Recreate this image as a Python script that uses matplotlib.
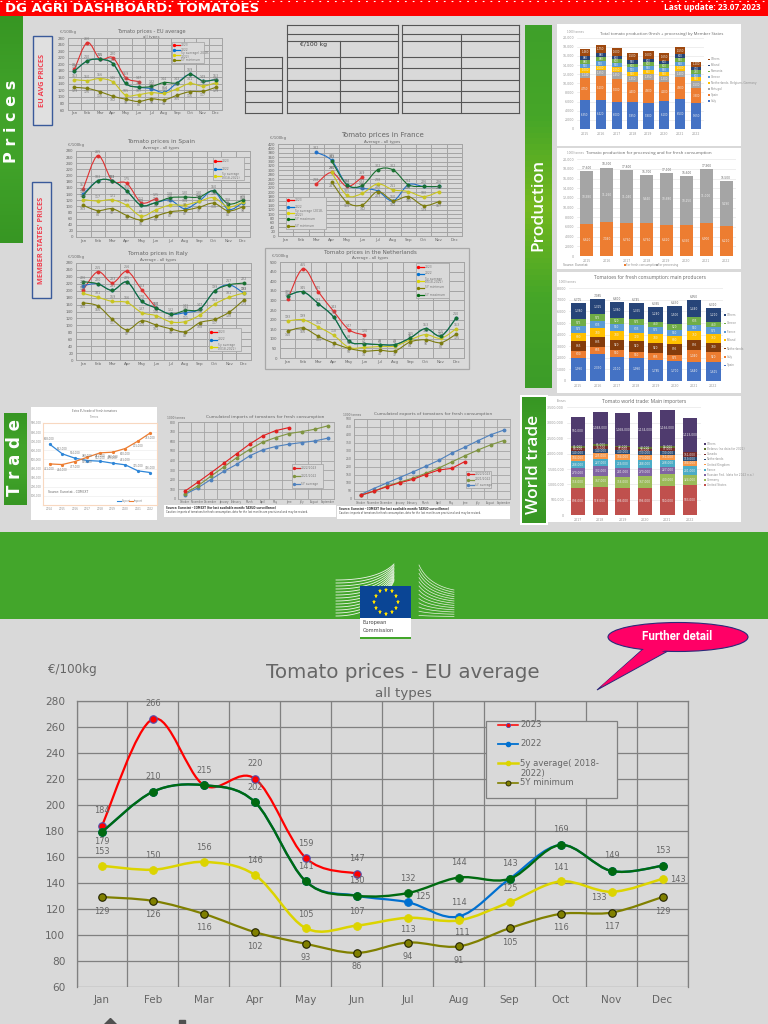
# DG AGRI tomato dashboard

import numpy as np
import matplotlib
matplotlib.use('Agg')
import matplotlib.pyplot as plt
from matplotlib.path import Path
from matplotlib.patches import PathPatch, Rectangle, Ellipse, Polygon
from matplotlib.colors import LinearSegmentedColormap

# Price series
months = ['Jan', 'Feb', 'Mar', 'Apr', 'May', 'Jun', 'Jul', 'Aug', 'Sep', 'Oct', 'Nov', 'Dec']
N = None

eu_2023 = [184, 266, 215, 220, 159, 147, N, N, N, N, N, N]
eu_2022 = [179, 210, 215, 202, 141, 130, 125, 114, 143, 169, 149, 153]
eu_avg = [153, 150, 156, 146, 105, 107, 113, 111, 125, 141, 133, 143]
eu_min = [129, 126, 116, 102, 93, 86, 94, 91, 105, 116, 117, 129]
eu_max = [179, 210, 215, 202, 141, 130, 132, 144, 143, 169, 149, 153]

es_2023 = [157, 265, 183, 175, 112, 125, N, N, N, N, N, N]
es_2022 = [140, 183, 183, 150, 103, 112, 120, 92, 117, 150, 90, 112]
es_avg = [122, 117, 121, 103, 68, 88, 104, 104, 116, 128, 98, 113]
es_min = [103, 86, 92, 70, 55, 68, 82, 87, 97, 110, 85, 98]
es_max = [135, 183, 183, 150, 103, 112, 128, 130, 130, 150, 108, 120]

fr_2023 = [N, N, 238, 290, 226, 269, N, N, N, N, N, N]
fr_2022 = [N, N, 382, 345, 234, 218, 206, 160, 234, 226, 226, N]
fr_avg = [N, N, N, 290, 185, 195, 238, 211, 203, 180, 203, N]
fr_min = [N, N, N, 247, 154, 142, 203, 162, 180, 139, 157, N]
fr_max = [N, N, N, 342, 234, 231, 302, 302, 234, 226, 226, N]

it_2023 = [203, 255, 223, 256, 203, 150, N, N, N, N, N, N]
it_2022 = [215, 220, 201, 225, 170, 150, 132, 137, 147, 199, 217, 193]
it_avg = [192, 181, 169, 166, 137, 128, 110, 111, 130, 161, 181, 193]
it_min = [165, 156, 117, 87, 113, 101, 90, 82, 108, 117, 138, 173]
it_max = [226, 220, 201, 225, 170, 150, 132, 143, 147, 199, 217, 222]

nl_2023 = [305, 465, 345, 243, 147, 120, N, N, N, N, N, N]
nl_2022 = [325, 345, 283, 213, 88, 75, 70, 70, 105, 153, 115, 210]
nl_avg = [193, 199, 162, 118, 55, 55, 60, 62, 95, 122, 103, 153]
nl_min = [140, 156, 113, 77, 50, 36, 40, 37, 84, 95, 80, 125]
nl_max = [325, 345, 283, 213, 88, 75, 70, 70, 105, 153, 115, 210]

# Production, 1000 tonnes
prod_years = ['2015', '2016', '2017', '2018', '2019', '2020', '2021', '2022']
prod_names = ['Italy', 'Spain', 'Portugal', 'Netherlands, Belgium, Germany', 'Greece', 'Romania', 'Poland', 'Others']
prod_italy = [6350, 6420, 6000, 5850, 5800, 6100, 6500, 5650]
prod_spain = [4750, 5100, 5000, 4400, 4900, 4200, 4900, 3300]
prod_port = [1240, 1350, 1450, 1350, 1350, 1300, 1400, 1500]
prod_nbg = [1000, 1000, 1050, 950, 900, 950, 1000, 850]
prod_greece = [950, 950, 950, 950, 850, 850, 900, 800]
prod_rom = [880, 880, 800, 800, 800, 800, 850, 750]
prod_pol = [880, 880, 800, 850, 800, 800, 800, 700]
prod_oth = [1460, 1750, 1600, 1500, 1600, 1650, 1550, 1200]

use_fresh = [6620, 7040, 6760, 6760, 6420, 6350, 6900, 6210]
use_proc = [10980, 11260, 11040, 9940, 10680, 10250, 11000, 9290]

fresh_names = ['Spain', 'Italy', 'Netherlands', 'Poland', 'France', 'Greece', 'Others']
fresh_spain = [1990, 2330, 2100, 1990, 1785, 1700, 1640, 1615]
fresh_italy = [630, 605, 550, 550, 605, 575, 1040, 920]
fresh_neth = [865, 835, 920, 920, 920, 895, 895, 780]
fresh_pol = [690, 780, 780, 720, 780, 690, 750, 750]
fresh_fra = [575, 635, 550, 635, 575, 550, 550, 575]
fresh_gre = [575, 575, 520, 575, 460, 520, 635, 460]
fresh_oth = [1380, 1325, 1380, 1355, 1240, 1500, 1440, 1210]

# World trade, tonnes
world_years = ['2017', '2018', '2019', '2020', '2021', '2022']
world_names = ['United States', 'Germany', 'Russian Fed. (data for 2022 n.a.)', 'France', 'United Kingdom',
               'Netherlands', 'Canada', 'Belarus (no data for 2022)', 'Others']
w_us = [896000, 918000, 896000, 896000, 940000, 983000]
w_de = [356000, 367000, 356000, 367000, 400000, 324000]
w_ru = [270000, 302000, 281000, 270000, 227000, 0]
w_fr = [248000, 227000, 259000, 248000, 238000, 281000]
w_uk = [184000, 205000, 184000, 173000, 151000, 184000]
w_nl = [140000, 140000, 140000, 130000, 130000, 119000]
w_ca = [86000, 76000, 97000, 76000, 97000, 151000]
w_by = [65000, 65000, 32000, 43000, 54000, 0]
w_ot = [950000, 1048000, 1058000, 1134000, 1166000, 1123000]

# Extra EU trade, 1000 tonnes
trade_years = ['2014', '2015', '2016', '2017', '2018', '2019', '2020', '2021', '2022']
trade_export = [668, 562, 514, 488, 481, 459, 441, 375, 356]
trade_import = [451, 444, 477, 525, 572, 580, 620, 701, 793]

# Cumulated trade, 1000 tonnes
camp_months = ['October', 'November', 'December', 'January', 'February', 'March', 'April', 'May', 'June', 'July', 'August', 'September']
imp_now = [79, 172, 269, 369, 469, 569, 655, 710, 741, N, N, N]
imp_last = [55, 134, 234, 331, 428, 514, 590, 638, 679, 700, 724, 759]
imp_avg = [45, 114, 200, 286, 359, 448, 510, 545, 569, 586, 603, 631]
exp_now = [23, 48, 76, 101, 122, 153, 181, 191, 233, N, N, N]
exp_last = [23, 48, 80, 105, 130, 160, 193, 231, 269, 305, 338, 365]
exp_avg = [27, 65, 99, 134, 168, 204, 241, 286, 323, 363, 401, 430]

W, H = 768, 1024
BG = '#d9d9d9'
GREY = '#666666'
RED, BLUE, YEL, OLI, GRN = '#ff0000', '#0070d0', '#dcd400', '#808000', '#006a10'

fig = plt.figure(figsize=(W / 100, H / 100), dpi=100, facecolor=BG)


def px_axes(x0, y0, x1, y1, z=1):
    # axes placed by picture pixels, y counted from the top
    ax = fig.add_axes([x0 / W, 1 - y1 / H, (x1 - x0) / W, (y1 - y0) / H], zorder=z)
    ax.patch.set_alpha(0)
    return ax


def overlay(z):
    ax = px_axes(0, 0, W, H, z)
    ax.set_xlim(0, W)
    ax.set_ylim(H, 0)
    ax.axis('off')
    return ax


bg = overlay(0)
fg = overlay(5)


def box(x0, y0, x1, y1, fc, ec='none', lw=0, ax=bg, z=1):
    ax.add_patch(Rectangle((x0, y0), x1 - x0, y1 - y0, fc=fc, ec=ec, lw=lw, zorder=z))


def smooth(ax, values, color, lw, z):
    # Excel style smoothed line through the points
    pts = [(i, v) for i, v in enumerate(values) if v is not None]
    verts = [pts[0]]
    codes = [Path.MOVETO]
    for k in range(len(pts) - 1):
        p0 = pts[max(k - 1, 0)]
        p1, p2 = pts[k], pts[k + 1]
        p3 = pts[min(k + 2, len(pts) - 1)]
        c1 = (p1[0] + (p2[0] - p0[0]) / 6, p1[1] + (p2[1] - p0[1]) / 6)
        c2 = (p2[0] - (p3[0] - p1[0]) / 6, p2[1] - (p3[1] - p1[1]) / 6)
        verts += [c1, c2, p2]
        codes += [Path.CURVE4] * 3
    ax.add_patch(PathPatch(Path(verts, codes), fc='none', ec=color, lw=lw, zorder=z, capstyle='round'))


def points(ax, values, color, ms, z, edge=None, mew=0.6):
    xs = [i for i, v in enumerate(values) if v is not None]
    ys = [v for v in values if v is not None]
    ax.plot(xs, ys, ls='none', marker='o', ms=ms, mfc=color, mec=edge or color, mew=mew, zorder=z)


def small_chart(rect, ymax, ystep, series, title, sub, unit, title_x, title_y, sub_y, title_fs):
    ax = px_axes(*rect)
    ymin = series[0]
    ax.set_xlim(-0.5, 11.5)
    ax.set_ylim(ymin, ymax)
    ax.set_xticks(np.arange(-0.5, 12))
    ax.set_xticklabels([])
    ax.set_yticks(np.arange(ymin, ymax + 1, ystep))
    ax.grid(True, color='#a4a4a4', lw=0.7)
    ax.set_axisbelow(True)
    for s in ax.spines.values():
        s.set_color('#a4a4a4')
        s.set_linewidth(0.7)
    ax.tick_params(length=0, labelsize=2.9, labelcolor=GREY, pad=2)
    for i, m in enumerate(months):
        ax.text(i, -0.045, m, transform=ax.get_xaxis_transform(), ha='center', va='center', fontsize=2.9, color=GREY)
    styles = [('#e03030', 1), ('#2070c8', 2), ('#c8c420', 3), ('#7c7c10', 4), ('#187030', 5)]
    for values, (color, z) in zip(series[1:], styles):
        smooth(ax, values, color, 0.8, z)
        points(ax, values, color, 2.2, z + 0.5)
        offset = -4 if z == 4 else 4
        for i, v in enumerate(values):
            if v is not None and not (z == 2 and v == series[5][i]):
                ax.annotate(str(v), (i, v), xytext=(0, offset), textcoords='offset pixels', ha='center',
                            va='center', fontsize=2.3, color='#777777', zorder=7)
    bg.text(title_x, title_y, title, ha='center', va='center', fontsize=title_fs, color=GREY, zorder=3)
    bg.text(title_x, sub_y, sub, ha='center', va='center', fontsize=2.8, color=GREY, zorder=3)
    bg.text(rect[0] - 8, rect[1] - 6, unit, ha='left', va='center', fontsize=2.8, color=GREY, zorder=3)
    return ax


def small_legend(x0, y0, x1, y1, labels, colors):
    box(x0, y0, x1, y1, BG, '#a8a8a8', 0.6, ax=fg, z=1)
    step = (y1 - y0) / len(labels)
    for i, (lab, col) in enumerate(zip(labels, colors)):
        y = y0 + step * (i + 0.5)
        fg.plot([x0 + 2, x0 + 8], [y, y], color=col, lw=0.9, marker='o', ms=1.4, markevery=[0], zorder=2)
        fg.text(x0 + 9, y, lab, fontsize=2.2, color='#777777', va='center', linespacing=0.95, zorder=2)


def stacked(rect, labels, series, colors, ymax, ystep, width, title, tx, ty, tfs, unit, fs=2.1, totals=False):
    ax = px_axes(*rect)
    x = np.arange(len(labels))
    base = np.zeros(len(labels))
    for vals, col in zip(series, colors):
        ax.bar(x, vals, width, bottom=base, color=col, zorder=2)
        for i, v in enumerate(vals):
            if v > 0:
                ax.text(i, base[i] + v / 2, f'{v:,}', ha='center', va='center', fontsize=fs, color='#eeeeee', zorder=3)
        base += np.array(vals)
    if totals:
        for i, t in enumerate(base):
            ax.text(i, t + ymax * 0.012, f'{int(t):,}', ha='center', va='bottom', fontsize=fs, color=GREY)
    ax.set_xlim(-0.5, len(labels) - 0.5)
    ax.set_ylim(0, ymax)
    ax.set_xticks(x)
    ax.set_xticklabels(labels)
    ax.set_yticks(np.arange(0, ymax + 1, ystep))
    ax.yaxis.set_major_formatter(lambda v, p: f'{int(v):,}')
    ax.grid(True, axis='y', color='#e8e8e8', lw=0.5)
    ax.set_axisbelow(True)
    for s in ax.spines.values():
        s.set_visible(False)
    ax.tick_params(length=0, labelsize=2.3, labelcolor='#999999', pad=2)
    bg.text(tx, ty, title, ha='center', va='center', fontsize=tfs, color='#666666', family='Open Sans', zorder=3)
    bg.text(rect[0] - 10, rect[1] - 6, unit, fontsize=2, color='#999999', va='center', zorder=3)
    return ax


def side_legend(x, y0, step, labels, colors):
    for i, (lab, col) in enumerate(zip(labels, colors)):
        y = y0 + i * step
        box(x, y - 0.8, x + 2, y + 0.8, col, z=3)
        bg.text(x + 3, y, lab, fontsize=2.1, color='#909090', va='center', zorder=3)


def side_tab(x0, y0, x1, y1, text, fs, text_y, shades, weight='bold', family='Open Sans'):
    cmap = LinearSegmentedColormap.from_list('tab', shades)
    grad = np.linspace(0, 1, 64).reshape(-1, 1)
    bg.imshow(grad, extent=(x0, x1, y1, y0), aspect='auto', cmap=cmap, zorder=2)
    bg.set_xlim(0, W)
    bg.set_ylim(H, 0)
    bg.text((x0 + x1) / 2, text_y, text, rotation=90, ha='center', va='center', color='white',
            fontsize=fs, fontweight=weight, family=family, zorder=3)


# Header
box(0, 0, W, H, BG)
box(0, 0, W, 15.5, '#ff0000')
bg.plot([0, W], [0.8, 0.8], color='white', lw=0.8, ls=(0, (1.6, 5.4)), zorder=2)
bg.text(5, 9, 'DG AGRI DASHBOARD: TOMATOES', color='white', fontsize=9.5, fontweight='bold', va='center', zorder=3)
stamp = bg.text(761, 8, 'Last update: 23.07.2023', color='white', fontsize=8, fontweight='bold', ha='right',
                va='center', family='Open Sans', zorder=3)
# the stamp is 97 pixels wide in the reference
stamp.set_fontsize(8 * 97 / stamp.get_window_extent(fig.canvas.get_renderer()).width)

# Side tabs
plain = ['#379623', '#40a229', '#40a229', '#379623']
lime = ['#3fa02a', '#46a628', '#74b81e', '#46a628', '#3c9c28']
side_tab(0, 16, 23, 243, 'P r i c e s', 11.5, 121, plain, family='DejaVu Sans')
side_tab(4, 413, 27, 505, 'T r a d e', 12, 457, plain, family='DejaVu Sans')
side_tab(525, 25, 552, 388, 'Production', 12.5, 205, lime, weight='semibold')
box(520, 395, 548, 525, 'white', z=1)
side_tab(522, 397, 546, 523, 'World trade', 12.5, 464, plain, weight='semibold')

for x0, y0, x1, y1, label in [(33, 36, 52, 125, 'EU AVG PRICES'), (32, 182, 51, 298, "MEMBER STATES' PRICES")]:
    box(x0, y0, x1, y1, '#e0e0e0', '#3a5a9a', 1.0)
    bg.text((x0 + x1) / 2, (y0 + y1) / 2, label, rotation=90, ha='center', va='center', color='#f04050',
            fontsize=5.3, fontweight='bold', family='Open Sans', zorder=3)

# Empty tables
line_c = '#555555'
for x0, x1, rows in [(245, 282, [57, 68, 80, 91, 102, 113]),
                     (287, 398, [25, 34, 41, 57, 68, 80, 91, 102, 113]),
                     (402, 519, [25, 34, 41, 57, 68, 80, 91, 102, 113])]:
    for y in rows:
        bg.plot([x0, x1], [y, y], color=line_c, lw=0.8, zorder=2)
    bg.plot([x0, x0], [rows[0], rows[-1]], color=line_c, lw=0.8, zorder=2)
    bg.plot([x1, x1], [rows[0], rows[-1]], color=line_c, lw=0.8, zorder=2)
bg.plot([340, 340], [41, 113], color=line_c, lw=0.8, zorder=2)
bg.plot([461, 461], [34, 113], color=line_c, lw=0.8, zorder=2)
bg.text(313, 44.5, '€/100 kg', fontsize=4.4, color='#333333', ha='center', va='center', zorder=3)

# Small price charts
small_chart((68, 38, 222, 110), 280, 20, [60, eu_2023, eu_2022, eu_avg, eu_min, eu_max],
            'Tomato prices - EU average', 'all types', '€/100kg', 151, 32, 37, 3.6)
small_legend(172, 42, 204, 63, ['2023', '2022', '5y average( 2018-\n2022)', '5Y minimum'], [RED, BLUE, YEL, OLI])

small_chart((76, 151, 250, 237), 280, 20, [0, es_2023, es_2022, es_avg, es_min, es_max],
            'Tomato prices in Spain', 'Average - all types', '€/100kg', 161, 142, 147.5, 4.3)
small_legend(213, 157, 244, 180, ['2023', '2022', '5y average\n(2018-2022)'], [RED, BLUE, YEL])

small_chart((278, 144, 462, 236), 420, 20, [0, fr_2023, fr_2022, fr_avg, fr_min, fr_max],
            'Tomato prices in France', 'Average - all types', '€/100kg', 382, 135, 141.5, 5)
small_legend(286, 197, 326, 229, ['2023', '2022', '5y average (2018-\n2022)', '5Y maximum', '5Y minimum'],
             [RED, BLUE, YEL, GRN, OLI])

small_chart((76, 263, 251, 360), 280, 20, [0, it_2023, it_2022, it_avg, it_min, it_max],
            'Tomato prices in Italy', 'Average - all types', '€/100kg', 158, 254, 260, 4.1)
small_legend(209, 328, 241, 351, ['2023', '2022', '5y average\n(2018-2022)'], [RED, BLUE, YEL])

box(265, 248, 469, 369, BG, '#a8a8a8', 0.9)
small_chart((280, 262, 464, 358), 500, 50, [0, nl_2023, nl_2022, nl_avg, nl_min, nl_max],
            'Tomato prices in the Netherlands', 'Average - all types', '€/100kg', 370.5, 252.5, 258, 4.1)
small_legend(416, 263, 449, 298, ['2023', '2022', '5y average\n(2018-2022)', '5Y minimum', '5Y maximum'],
             [RED, BLUE, YEL, OLI, GRN])

# Production panels
box(557, 24, 741, 146, 'white')
c1 = ['#4472c4', '#ed7d31', '#a5a5a5', '#ffc000', '#5b9bd5', '#70ad47', '#264478', '#9e480e']
stacked((577, 37.7, 704, 129), prod_years,
        [prod_italy, prod_spain, prod_port, prod_nbg, prod_greece, prod_rom, prod_pol, prod_oth], c1,
        20000, 2000, 0.65, 'Total tomato production (fresh + processing) by Member States', 662, 34, 3.0,
        '1000 tonnes', fs=1.9)
side_legend(708, 59.5, 5.9, prod_names[::-1], c1[::-1])

box(557, 148, 741, 269, 'white')
stacked((577, 159.3, 736, 256), prod_years, [use_fresh, use_proc], ['#ed7d31', '#a5a5a5'], 20000, 2000, 0.65,
        'Tomato production for processing and for fresh consumption', 649, 153, 3.2, '1000 tonnes', totals=True)
bg.text(563, 265, 'Source: Eurostat', fontsize=2.2, color='#808080', va='center', zorder=3)
bg.text(626, 265, 'For fresh consumption', fontsize=2.1, color='#909090', va='center', zorder=3)
box(624, 264.3, 625.5, 265.7, '#ed7d31', z=3)
bg.text(658, 265, 'For processing', fontsize=2.1, color='#909090', va='center', zorder=3)
box(656, 264.3, 657.5, 265.7, '#a5a5a5', z=3)

box(557, 272, 741, 393, 'white')
c3 = ['#4472c4', '#ed7d31', '#843c0c', '#ffc000', '#5b9bd5', '#70ad47', '#264478']
stacked((568.7, 288.3, 723, 381), prod_years,
        [fresh_spain, fresh_italy, fresh_neth, fresh_pol, fresh_fra, fresh_gre, fresh_oth], c3,
        8000, 1000, 0.76, 'Tomatoes for fresh consumption: main producers', 650, 277, 3.5, '1000 tonnes', totals=True)
side_legend(724, 315, 8.4, fresh_names[::-1], c3[::-1])

box(548, 396, 741, 522, 'white')
c4 = ['#c0504d', '#9bbb59', '#8064a2', '#4bacc6', '#f79646', '#2c4d75', '#772c2a', '#5f7530', '#4f3b6e']
stacked((566.8, 407.3, 701, 515.3), world_years, [w_us, w_de, w_ru, w_fr, w_uk, w_nl, w_ca, w_by, w_ot], c4,
        3500000, 500000, 0.65, 'Tomato world trade: Main importers', 644, 401, 3.6, 'Tonnes')
side_legend(704, 444, 5.15, world_names[::-1], c4[::-1])

# Extra EU trade
box(31, 407, 157, 520, 'white')
ax = px_axes(43.3, 423, 156.8, 505)
ax.plot(trade_export, color='#2e86d8', lw=0.9, marker='o', ms=1.3)
ax.plot(trade_import, color='#ed7d31', lw=0.9, marker='o', ms=1.3)
for i in range(len(trade_years)):
    ax.annotate(f'{trade_export[i]},000', (i, trade_export[i]), xytext=(0, 5), textcoords='offset pixels',
                ha='center', va='center', fontsize=1.9, color='#777777')
    ax.annotate(f'{trade_import[i]},000', (i, trade_import[i]), xytext=(0, -5), textcoords='offset pixels',
                ha='center', va='center', fontsize=1.9, color='#777777')
ax.set_xlim(-0.5, 8.5)
ax.set_ylim(0, 900)
ax.set_xticks(range(9))
ax.set_xticklabels(trade_years)
ax.set_yticks(range(100, 901, 100))
ax.yaxis.set_major_formatter(lambda v, p: f'{int(v)},000')
ax.grid(True, axis='y', color='#eeeeee', lw=0.5)
for s in ax.spines.values():
    s.set_color('#f8d8c0')
    s.set_linewidth(0.8)
ax.tick_params(length=0, labelsize=2, labelcolor='#909090', pad=1.5)
bg.text(94, 411.5, 'Extra EU trade of fresh tomatoes', ha='center', va='center', fontsize=2.2, color=GREY,
        family='Open Sans', zorder=3)
bg.text(94, 417.5, 'Tonnes', ha='center', va='center', fontsize=1.9, color='#909090', zorder=3)
bg.text(48, 492, 'Source: Eurostat - COMEXT', fontsize=2.2, color=GREY, va='center', zorder=4)
for x, name, col in [(117, 'Export', '#2e86d8'), (129, 'Import', '#ed7d31')]:
    bg.plot([x, x + 4], [501, 501], color=col, lw=0.8, zorder=4)
    bg.text(x + 5, 501, name, fontsize=2, color='#909090', va='center', zorder=4)


def cumul(rect, ymax, ystep, now, last, avg, title, tx, ty):
    ax = px_axes(*rect)
    for vals, col in [(avg, '#4f81bd'), (last, '#7f9440'), (now, '#e02020')]:
        xs = [i for i, v in enumerate(vals) if v is not None]
        ax.plot(xs, [vals[i] for i in xs], color=col, lw=0.8, marker='o', ms=1.8)
    ax.set_xlim(-0.5, 11.5)
    ax.set_ylim(0, ymax)
    ax.set_xticks(np.arange(-0.5, 12))
    ax.set_xticklabels([])
    ax.set_yticks(np.arange(0, ymax + 1, ystep))
    ax.grid(True, color='#a4a4a4', lw=0.6)
    ax.set_axisbelow(True)
    for s in ax.spines.values():
        s.set_color('#a4a4a4')
        s.set_linewidth(0.6)
    ax.tick_params(length=0, labelsize=2.2, labelcolor=GREY, pad=1.5)
    for i, m in enumerate(camp_months):
        ax.text(i, -0.045, m, transform=ax.get_xaxis_transform(), ha='center', va='center', fontsize=1.8, color=GREY)
    bg.text(tx, ty, title, ha='center', va='center', fontsize=3.2, color=GREY, zorder=3)
    bg.text(rect[0] - 11, ty + 1, '1000 tonnes', fontsize=2.1, color=GREY, va='center', zorder=3)


cumul((178, 422, 334, 499), 800, 100, imp_now, imp_last, imp_avg,
      'Cumulated imports of tomatoes for fresh consumption', 265, 417)
small_legend(292, 464, 323, 488, ['2022/2023', '2021/2022', '5Y average'], ['#e02020', '#7f9440', '#4f81bd'])
cumul((354, 419, 510, 499), 500, 50, exp_now, exp_last, exp_avg,
      'Cumulated exports of tomatoes for fresh consumption', 433, 414)
small_legend(466, 471, 491, 488, ['2022/2023', '2021/2022', '5Y average'], ['#e02020', '#7f9440', '#4f81bd'])

note_a = 'Source: Eurostat - COMEXT (for last available month: TAXUD surveillance)'
note_b = 'Caution: imports of tomatoes for fresh consumption, data for the last months are provisional and may be revised.'
for x0, y0, x1, y1 in [(164, 505, 336, 517), (337, 506, 510, 519)]:
    box(x0, y0, x1, y1, 'white', z=2)
    bg.text(x0 + 2, y0 + 3, note_a, fontsize=1.9, fontweight='bold', color='#333333', va='center', zorder=3)
    bg.text(x0 + 2, y0 + 7, note_b, fontsize=1.8, color='#444444', va='center', zorder=3)

# Green band and logo
box(0, 532, W, 619, '#43a62b')
for i in range(13):
    y = 580 + i * 3
    t = np.linspace(0, 1, 30)
    xs = (1 - t) ** 2 * 336 + 2 * t * (1 - t) * 378 + t ** 2 * 394
    ys = (1 - t) ** 2 * y + 2 * t * (1 - t) * y + t ** 2 * (564 + i * 1.4)
    bg.plot(xs, ys, color='#f2f6ee', lw=0.6, zorder=2)
    xs = (1 - t) ** 2 * 419 + 2 * t * (1 - t) * 428 + t ** 2 * 454
    ys = (1 - t) ** 2 * (565 + i * 4.2) + 2 * t * (1 - t) * (585 + i * 2.6) + t ** 2 * (590 + i * 2.2)
    bg.plot(xs, ys, color='#e8f0e0', lw=0.5, zorder=2)
box(360, 586, 411, 617.5, '#0a4595', z=3)
box(360, 617.5, 411, 637, 'white', z=3)
box(360, 637, 411, 639, '#43a62b', z=3)
ang = np.arange(12) * np.pi / 6
bg.plot(386 + 12 * np.cos(ang), 601.5 + 12 * np.sin(ang), ls='none', marker='*', ms=3.6, color='#ffe000', mew=0, zorder=4)
bg.text(362.5, 622.5, 'European', fontsize=3.7, color='#444444', va='center', zorder=4)
bg.text(362.5, 630.5, 'Commission', fontsize=3.7, color='#444444', va='center', zorder=4)

# Callout
fg.add_patch(Polygon([(643, 649), (668, 651), (597, 690)], fc='#ff0066', ec='#2a2a7a', lw=0.7, zorder=3))
fg.add_patch(Ellipse((678, 637), 140, 29, fc='#ff0066', ec='#2a2a7a', lw=0.8, zorder=3))
fg.add_patch(Polygon([(645, 648), (666, 649.5), (600, 687)], fc='#ff0066', ec='none', zorder=4))
fg.text(677, 637, 'Further detail', color='white', fontsize=8.4, fontweight='bold', family='Roboto',
        ha='center', va='center', zorder=5)

# Main chart
ax = px_axes(76.5, 700.7, 688, 986.7, 2)
ax.set_xlim(-0.5, 11.5)
ax.set_ylim(60, 280)
ax.set_xticks(range(12))
ax.set_xticklabels(months)
ax.set_yticks(range(60, 281, 20))
ax.set_xticks(np.arange(-0.5, 12), minor=True)
ax.grid(True, which='minor', axis='x', color='#808080', lw=0.9)
ax.grid(True, which='major', axis='y', color='#808080', lw=0.9)
ax.set_axisbelow(True)
ax.spines['bottom'].set_visible(False)
for s in ['left', 'right', 'top']:
    ax.spines[s].set_color('#808080')
    ax.spines[s].set_linewidth(0.9)
ax.tick_params(which='both', length=0)
ax.tick_params(axis='y', labelsize=7.6, labelcolor=GREY, pad=8)
ax.tick_params(axis='x', labelsize=7.5, labelcolor=GREY, pad=6)

smooth(ax, eu_2023, RED, 1.6, 3)
points(ax, eu_2023, RED, 5.4, 3.5, '#5050b0', 0.8)
smooth(ax, eu_2022, BLUE, 1.6, 4)
points(ax, eu_2022, BLUE, 5.6, 4.5)
smooth(ax, eu_avg, YEL, 1.8, 5)
points(ax, eu_avg, YEL, 5.6, 5.5)
smooth(ax, eu_min, OLI, 1.6, 6)
points(ax, eu_min, OLI, 5.4, 6.5, '#222200', 0.8)
smooth(ax, eu_max, GRN, 1.7, 7)
points(ax, eu_max, GRN, 5.6, 7.5)

# label offsets in pixels from the point, default is above
label_fs = 5.9
for i, v in enumerate(eu_2023):
    if v is not None:
        ax.annotate(str(v), (i, v), xytext=(0, 15), textcoords='offset pixels', ha='center', va='center',
                    fontsize=label_fs, color=GREY, zorder=9)
for i, v in enumerate(eu_max):
    if i == 2:
        continue  # same label as 2023
    off = (0, -10) if i == 0 else (0, 15)
    ax.annotate(str(v), (i, v), xytext=off, textcoords='offset pixels', ha='center', va='center',
                fontsize=label_fs, color=GREY, zorder=9)
for i, off in [(6, (15, 6)), (7, (0, 14))]:
    ax.annotate(str(eu_2022[i]), (i, eu_2022[i]), xytext=off, textcoords='offset pixels', ha='center', va='center',
                fontsize=label_fs, color=GREY, zorder=9)
avg_off = {6: (0, -12), 7: (3, -12), 10: (-13, -6), 11: (15, -1)}
for i, v in enumerate(eu_avg):
    ax.annotate(str(v), (i, v), xytext=avg_off.get(i, (0, 14)), textcoords='offset pixels', ha='center', va='center',
                fontsize=label_fs, color=GREY, zorder=9)
for i, v in enumerate(eu_min):
    ax.annotate(str(v), (i, v), xytext=(0, -14), textcoords='offset pixels', ha='center', va='center',
                fontsize=label_fs, color=GREY, zorder=9)

fg.text(403, 673, 'Tomato prices - EU average', ha='center', va='center', fontsize=14.3, color=GREY)
fg.text(403, 693, 'all types', ha='center', va='center', fontsize=9.6, color=GREY)
fg.text(48, 669, '€/100kg', ha='left', va='center', fontsize=8.6, color=GREY)

# Main legend
box(486, 721, 617, 798, BG, '#808080', 0.9, ax=fg, z=1)
fg.plot([498, 518], [724.5, 724.5], color=RED, lw=1.1, zorder=2)
fg.plot([508], [724.5], marker='o', ms=3, mfc=RED, mec='#5050b0', mew=0.6, zorder=3)
fg.plot([498, 518], [743.5, 743.5], color=BLUE, lw=1.3, zorder=2)
fg.plot([508], [743.5], marker='o', ms=3, color=BLUE, zorder=3)
fg.plot([498, 518], [763, 763], color=YEL, lw=1.8, zorder=2)
fg.plot([508], [763], marker='o', ms=3, color=YEL, zorder=3)
fg.plot([498, 518], [782.5, 782.5], color=OLI, lw=1.2, zorder=2)
fg.plot([508], [782.5], marker='o', ms=3.6, mfc=OLI, mec='#222200', mew=0.6, zorder=3)
fg.text(520, 724.5, '2023', fontsize=6.1, color=GREY, va='center', zorder=3)
fg.text(520, 743.5, '2022', fontsize=6.1, color=GREY, va='center', zorder=3)
fg.text(520, 768.5, '5y average( 2018-\n2022)', fontsize=6.1, color=GREY, va='center', linespacing=1.1, zorder=3)
fg.text(520, 782.5, '5Y minimum', fontsize=6.1, color=GREY, va='center', zorder=3)

# Shapes cut by the lower edge
fg.plot([110], [1024], marker='D', ms=6, color='#505050', zorder=2)
fg.plot([181.5], [1023], marker='s', ms=4.5, color='#505050', zorder=2)

fig.savefig('out.png', dpi=100, facecolor=BG)
